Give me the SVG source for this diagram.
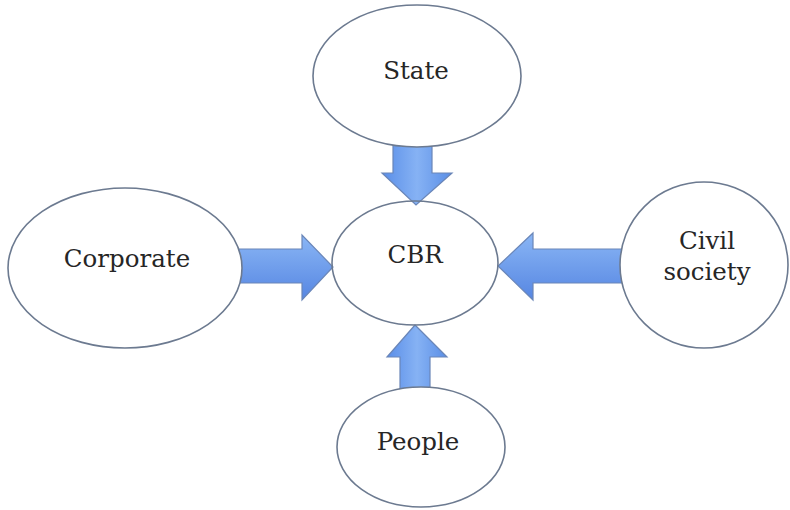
<svg xmlns="http://www.w3.org/2000/svg" width="790" height="510" viewBox="0 0 790 510">
<defs>
<linearGradient id="gv" x1="0" y1="0" x2="1" y2="0">
<stop offset="0" stop-color="#5a8ee8"/><stop offset="0.5" stop-color="#86b2f4"/><stop offset="1" stop-color="#5a8ee6"/>
</linearGradient>
<linearGradient id="gh" x1="0" y1="0" x2="0" y2="1">
<stop offset="0" stop-color="#8ab6f5"/><stop offset="1" stop-color="#5686e2"/>
</linearGradient>
<style>
.node ellipse{fill:#ffffff;stroke:#6c7a90;stroke-width:1.6}
.node text{font-family:"DejaVu Serif","Liberation Serif",serif;font-size:24.5px;fill:#262626;text-anchor:middle}
.arrow{stroke:#6a86b8;stroke-width:1.2;stroke-linejoin:miter}
</style>
</defs>
<rect width="790" height="510" fill="#ffffff"/>
<g id="connectors">
<path class="arrow" fill="url(#gv)" d="M393,145 L432,145 L432,173 L452,173 L416,205 L382,173 L393,173 Z"/>
<path class="arrow" fill="url(#gh)" d="M238,249 L302,249 L302,235 L333,267 L302,300 L302,283 L238,283 Z"/>
<path class="arrow" fill="url(#gh)" d="M624,249 L533,249 L533,233 L498,266 L533,300 L533,283 L624,283 Z"/>
<path class="arrow" fill="url(#gv)" d="M400,390 L400,357 L387,357 L415,325 L447,357 L430,357 L430,390 Z"/>
</g>
<g id="n-state" class="node"><ellipse cx="417" cy="76" rx="104" ry="71"/><text x="416" y="79">State</text></g>
<g id="n-corporate" class="node"><ellipse cx="125" cy="268" rx="117" ry="80"/><text x="127" y="267">Corporate</text></g>
<g id="n-civil" class="node"><ellipse cx="704" cy="265" rx="84" ry="83"/><text x="707" y="249">Civil</text><text x="707" y="280">society</text></g>
<g id="n-people" class="node"><ellipse cx="421" cy="447" rx="84" ry="60"/><text x="418" y="450">People</text></g>
<g id="n-cbr" class="node"><ellipse cx="415" cy="263" rx="83" ry="62" style="fill:none"/><text x="415" y="263">CBR</text></g>
</svg>
